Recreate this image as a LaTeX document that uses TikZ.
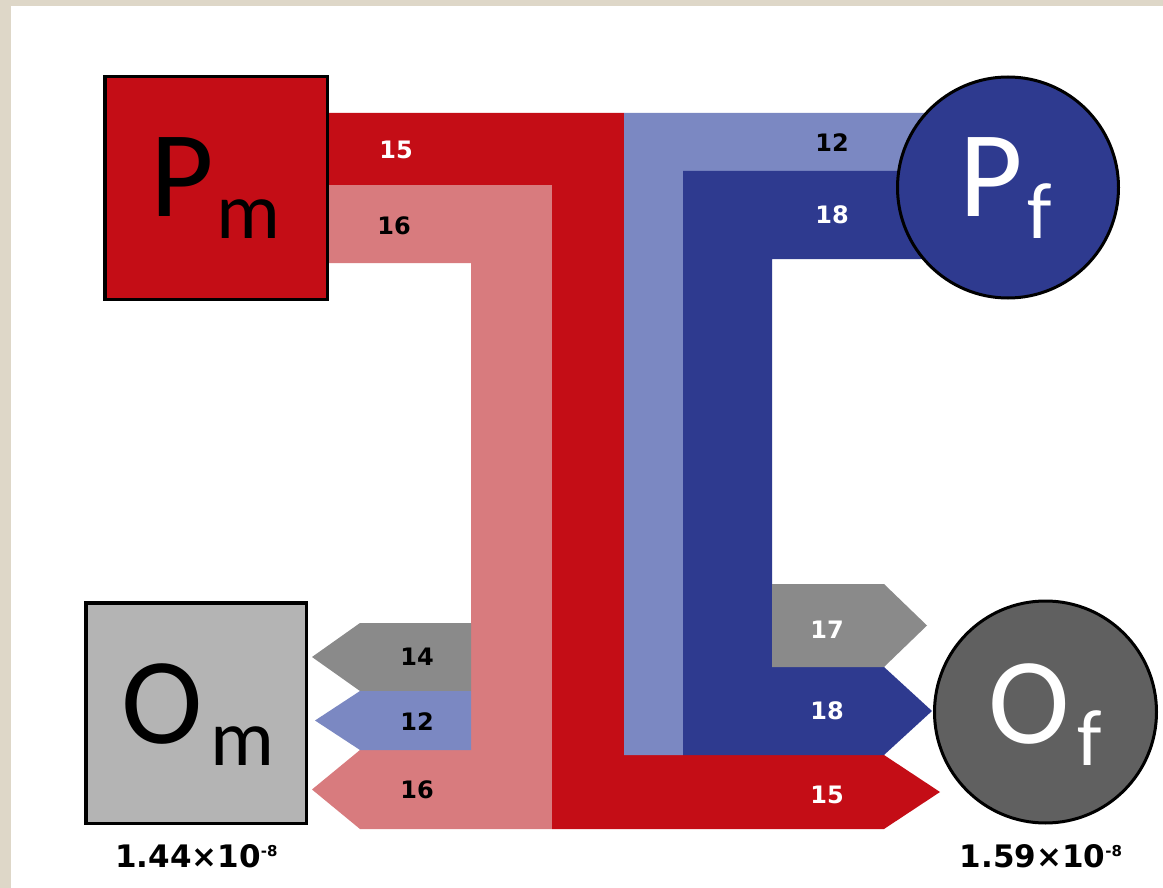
\documentclass[tikz,border=0pt]{standalone}
\usepackage{fontspec}
\setmainfont{Carlito}
\newfontfamily\numfont{DejaVu Sans}
\definecolor{cBeige}{RGB}{222,215,200}
\definecolor{cRed}{RGB}{196,13,22}
\definecolor{cPink}{RGB}{216,123,126}
\definecolor{cLBlue}{RGB}{123,136,194}
\definecolor{cDBlue}{RGB}{46,58,143}
\definecolor{cGray}{RGB}{138,138,138}
\definecolor{cLGray}{RGB}{180,180,180}
\definecolor{cDGray}{RGB}{96,96,96}
\tikzset{
  boxnode/.style={draw=black, line width=3.5pt, minimum size=221pt, inner sep=0pt, outer sep=0pt},
  circnode/.style={circle, draw=black, line width=3pt, minimum size=221pt, inner sep=0pt, outer sep=0pt},
  bigtxt/.style={inner sep=0pt, anchor=base west, font=\fontsize{123}{123}\selectfont},
  num/.style={inner sep=0pt, font=\numfont\bfseries\fontsize{24}{24}\selectfont},
  val/.style={inner sep=0pt, anchor=base, font=\numfont\bfseries\fontsize{31}{31}\selectfont}
}
\newcommand{\subm}[1]{\raisebox{-22pt}{\fontsize{80}{80}\selectfont #1}}
\newcommand{\supm}[1]{\raisebox{11pt}{\fontsize{15}{15}\selectfont #1}}
\begin{document}
\begin{tikzpicture}[x=1pt,y=-1pt]
\useasboundingbox (0,0) rectangle (1163,888);
\fill[cBeige] (0,0) rectangle (1163,888);
\fill[white] (11,6) rectangle (1163,888);

% pink band
\fill[cPink] (329,185) -- (552,185) -- (552,829) -- (360,829) -- (312,789.5) -- (360,750) -- (471,750) -- (471,263) -- (329,263) -- cycle;
% red band
\fill[cRed] (329,113) -- (624,113) -- (624,755) -- (884,755) -- (940,792) -- (884,829) -- (552,829) -- (552,185) -- (329,185) -- cycle;
% light blue band
\fill[cLBlue] (624,113) -- (1008,113) -- (1008,171) -- (683,171) -- (683,755) -- (624,755) -- cycle;
% dark blue band
\fill[cDBlue] (683,171) -- (1008,171) -- (1008,259) -- (772,259) -- (772,667) -- (884,667) -- (932,711) -- (884,755) -- (683,755) -- cycle;
% gray right arrow
\fill[cGray] (772,584) -- (884,584) -- (927,625.5) -- (884,667) -- (772,667) -- cycle;
% gray left arrow
\fill[cGray] (471,623) -- (360,623) -- (312,657) -- (360,691) -- (471,691) -- cycle;
% blue left arrow
\fill[cLBlue] (471,691) -- (360,691) -- (315,720.5) -- (360,750) -- (471,750) -- cycle;

% boxes and circles
\node[boxnode, fill=cRed, minimum size=222.5pt] (Pm) at (216,188) {};
\node[boxnode, fill=cLGray, minimum size=220.5pt] (Om) at (196,713) {};
\node[circnode, fill=cDBlue] (Pf) at (1008,187.5) {};
\node[circnode, fill=cDGray, minimum size=222pt] (Of) at (1045.5,712) {};

% big labels
\node[bigtxt, text=black] (PmT) at (150,217) {P\kern3pt\subm{m}};
\node[bigtxt, text=black] (OmT) at (121,743) {O\kern8pt\subm{m}};
\node[bigtxt, text=white] (PfT) at (959,217) {P\kern5pt\subm{f}};
\node[bigtxt, text=white] (OfT) at (988,743) {O\kern8pt\subm{f}};

% band numbers
\node[num, text=white] (n15a) at (396,150) {15};
\node[num, text=black] (n16a) at (394,226) {16};
\node[num, text=black] (n12a) at (832,143) {12};
\node[num, text=white] (n18a) at (832,215) {18};
\node[num, text=black] (n14) at (417,657) {14};
\node[num, text=black] (n12b) at (417,722) {12};
\node[num, text=black] (n16b) at (417,790) {16};
\node[num, text=white] (n17) at (827,630) {17};
\node[num, text=white] (n18b) at (827,711) {18};
\node[num, text=white] (n15b) at (827,795) {15};

% values
\node[val] (vOm) at (196.5,867) {1.44×10\supm{-8}};
\node[val] (vOf) at (1041,867) {1.59×10\supm{-8}};
\end{tikzpicture}
\end{document}
